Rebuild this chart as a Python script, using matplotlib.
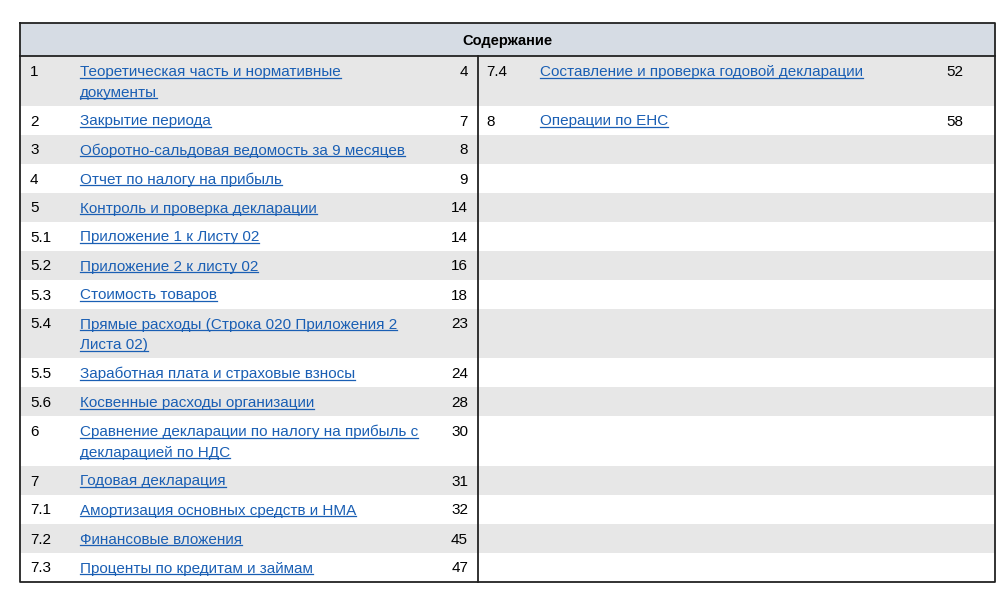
import matplotlib.pyplot as plt
from matplotlib.patches import Rectangle

plt.rcParams['font.family'] = ['Liberation Sans', 'DejaVu Sans']

header = "Содержание"
left_nums = ["1", "2", "3", "4", "5", "5.1", "5.2", "5.3", "5.4", "5.5", "5.6",
             "6", "7", "7.1", "7.2", "7.3"]
left_titles = ["Теоретическая часть и нормативные\nдокументы", "Закрытие периода",
               "Оборотно-сальдовая ведомость за 9 месяцев", "Отчет по налогу на прибыль",
               "Контроль и проверка декларации", "Приложение 1 к Листу 02",
               "Приложение 2 к листу 02", "Стоимость товаров",
               "Прямые расходы (Строка 020 Приложения 2\nЛиста 02)",
               "Заработная плата и страховые взносы", "Косвенные расходы организации",
               "Сравнение декларации по налогу на прибыль с\nдекларацией по НДС",
               "Годовая декларация", "Амортизация основных средств и НМА",
               "Финансовые вложения", "Проценты по кредитам и займам"]
left_pages = ["4", "7", "8", "9", "14", "14", "16", "18", "23", "24", "28",
              "30", "31", "32", "45", "47"]
right_nums = ["7.4", "8"]
right_titles = ["Составление и проверка годовой декларации", "Операции по ЕНС"]
right_pages = ["52", "58"]

LINK = "#1a5fb4"
fig = plt.figure(figsize=(10, 5.97), dpi=100)
ax = fig.add_axes([0, 0, 1, 1])
ax.set_xlim(0, 1000); ax.set_ylim(597, 0); ax.axis("off")

X0, X1, XM = 20, 995, 478
top, hdr_bot = 23, 56
ax.add_patch(Rectangle((X0, top), X1 - X0, hdr_bot - top, fc="#d6dce4", ec="none"))
ax.text((X0 + X1) / 2, (top + hdr_bot) / 2 + 1, header, ha="center", va="center",
        fontsize=10.5, fontweight="bold")

y = hdr_bot
links = []
for i, (n, t, p) in enumerate(zip(left_nums, left_titles, left_pages)):
    nl = t.count("\n") + 1
    h = 29.0 if nl == 1 else 49.5
    if i % 2 == 0:
        ax.add_patch(Rectangle((X0, y), X1 - X0, h, fc="#e7e7e7", ec="none"))
    ty = y + 16
    ax.text(30, ty, n, va="center", fontsize=11)
    ax.text(468, ty, p, va="center", ha="right", fontsize=11)
    for k, line in enumerate(t.split("\n")):
        links.append(ax.text(80, ty + k * 20.5, line, va="center", fontsize=11, color=LINK))
    if i < len(right_nums):
        ax.text(486, ty, right_nums[i], va="center", fontsize=11)
        ax.text(963, ty, right_pages[i], va="center", ha="right", fontsize=11)
        links.append(ax.text(540, ty, right_titles[i], va="center", fontsize=11, color=LINK))
    y += h
bottom = y

ax.plot([X0, X1, X1, X0, X0], [top, top, bottom, bottom, top], color="#222", lw=1.3)
ax.plot([X0, X1], [hdr_bot, hdr_bot], color="#222", lw=1.3)
ax.plot([XM, XM], [hdr_bot, bottom], color="#222", lw=1.3)

# underline the link texts
fig.canvas.draw()
r = fig.canvas.get_renderer()
inv = ax.transData.inverted()
for t in links:
    bb = t.get_window_extent(r)
    (xa, ya), (xb, yb) = inv.transform([(bb.x0, bb.y0), (bb.x1, bb.y1)])
    ax.plot([xa, xb], [ya - 1.5, ya - 1.5], color=LINK, lw=0.9)

fig.savefig("out.png", dpi=100)
